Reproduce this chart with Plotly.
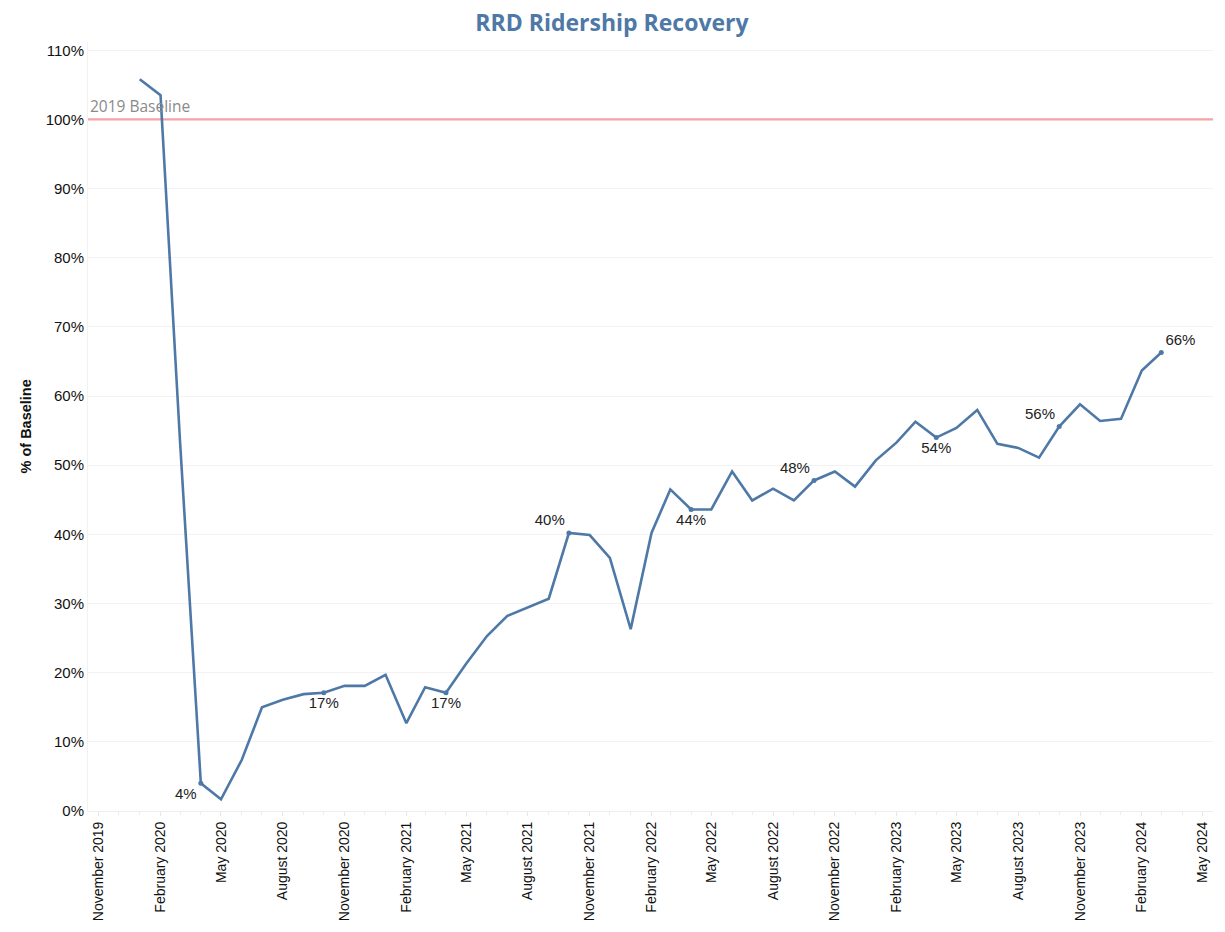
import plotly.graph_objects as go

months = [
    "2020-01-01", "2020-02-01", "2020-03-01", "2020-04-01", "2020-05-01", "2020-06-01",
    "2020-07-01", "2020-08-01", "2020-09-01", "2020-10-01", "2020-11-01", "2020-12-01",
    "2021-01-01", "2021-02-01", "2021-03-01", "2021-04-01", "2021-05-01", "2021-06-01",
    "2021-07-01", "2021-08-01", "2021-09-01", "2021-10-01", "2021-11-01", "2021-12-01",
    "2022-01-01", "2022-02-01", "2022-03-01", "2022-04-01", "2022-05-01", "2022-06-01",
    "2022-07-01", "2022-08-01", "2022-09-01", "2022-10-01", "2022-11-01", "2022-12-01",
    "2023-01-01", "2023-02-01", "2023-03-01", "2023-04-01", "2023-05-01", "2023-06-01",
    "2023-07-01", "2023-08-01", "2023-09-01", "2023-10-01", "2023-11-01", "2023-12-01",
    "2024-01-01", "2024-02-01", "2024-03-01",
]
pct_of_baseline = [
    105.8, 103.5, 53.5, 4.0, 1.7, 7.4,
    15.0, 16.1, 16.9, 17.1, 18.1, 18.1,
    19.7, 12.7, 17.9, 17.1, 21.3, 25.3,
    28.2, 29.4, 30.7, 40.2, 39.9, 36.6,
    26.3, 40.2, 46.5, 43.6, 43.6, 49.1,
    44.9, 46.6, 44.9, 47.8, 49.1, 46.9,
    50.7, 53.3, 56.3, 54.0, 55.4, 58.0,
    53.1, 52.5, 51.1, 55.6, 58.8, 56.4,
    56.7, 63.7, 66.3,
]

label_months = ["2020-04-01", "2020-10-01", "2021-04-01", "2021-10-01", "2022-04-01",
                "2022-10-01", "2023-04-01", "2023-10-01", "2024-03-01"]
label_positions = ["bottom left", "bottom center", "bottom center", "top left", "bottom center",
                   "top left", "bottom center", "top left", "top right"]

baseline = 100
baseline_label = "2019 Baseline"
x_range = ["2019-10-16", "2024-05-17"]

lookup = dict(zip(months, pct_of_baseline))
label_values = [lookup[m] for m in label_months]
label_texts = [f"{round(v):.0f}%" for v in label_values]

line_color = "#4E79A7"

# figure sits inside the page's default 8px body margin
W, H = 1209, 916
ML, MR, MT, MB = 80, 4, 34, 113
plot_w = W - ML - MR

fig = go.Figure()
fig.add_trace(go.Scatter(
    x=x_range, y=[baseline, baseline], mode="lines",
    line=dict(color="#F5A3A5", width=2.2),
    hoverinfo="skip", showlegend=False,
))
fig.add_trace(go.Scatter(
    x=months, y=pct_of_baseline, mode="lines",
    line=dict(color=line_color, width=2.6),
    hoverinfo="x+y", showlegend=False,
))
fig.add_trace(go.Scatter(
    x=label_months, y=label_values, mode="markers+text",
    marker=dict(color=line_color, size=5),
    text=label_texts, textposition=label_positions,
    textfont=dict(family="Liberation Sans, Arial, sans-serif", size=15, color="#222"),
    showlegend=False, hoverinfo="skip",
))

fig.add_annotation(
    x=0, xref="paper", y=baseline, yref="y", text=baseline_label,
    showarrow=False, xanchor="left", yanchor="bottom", xshift=0, yshift=0,
    font=dict(family="Open Sans, sans-serif", size=15.5, color="#8a8a8a"),
)
fig.add_annotation(
    x=(17 - ML) / plot_w, xref="paper", y=0.5, yref="paper", text="<b>% of Baseline</b>",
    showarrow=False, textangle=-90, xanchor="center", yanchor="middle",
    font=dict(family="Liberation Sans, Arial, sans-serif", size=14.5, color="#111"),
)

fig.update_layout(
    width=W, height=H,
    margin=dict(l=ML, r=MR, t=MT, b=MB, autoexpand=False),
    paper_bgcolor="white", plot_bgcolor="white",
    title=dict(text="<b>RRD Ridership Recovery</b>", x=(604 - ML) / plot_w, xref="paper",
               xanchor="center", y=1 - 15 / H, yanchor="middle",
               font=dict(family="Open Sans, sans-serif", size=23, color=line_color)),
    font=dict(family="Liberation Sans, Arial, sans-serif", size=14, color="#222"),
)
fig.update_xaxes(
    type="date", range=x_range, automargin=False,
    tick0="2019-11-01", dtick="M3", tickformat="%B %Y", tickangle=-90,
    tickfont=dict(size=14, color="#111"),
    ticks="outside", ticklen=4, tickcolor="#e6e6e6",
    minor=dict(dtick="M1", ticks="outside", ticklen=3, tickcolor="#ececec", showgrid=False),
    showgrid=False, showline=True, linecolor="#eeeeee", zeroline=False,
)
fig.update_yaxes(
    range=[0, 111.2], automargin=False, tickvals=list(range(0, 111, 10)),
    ticktext=[f"{v}%" for v in range(0, 111, 10)],
    tickfont=dict(size=15, color="#111"),
    showgrid=True, gridcolor="#f2f2f2", gridwidth=1, zeroline=False,
    showline=True, linecolor="#f2f2f2",
)

fig.write_html("out.html")
